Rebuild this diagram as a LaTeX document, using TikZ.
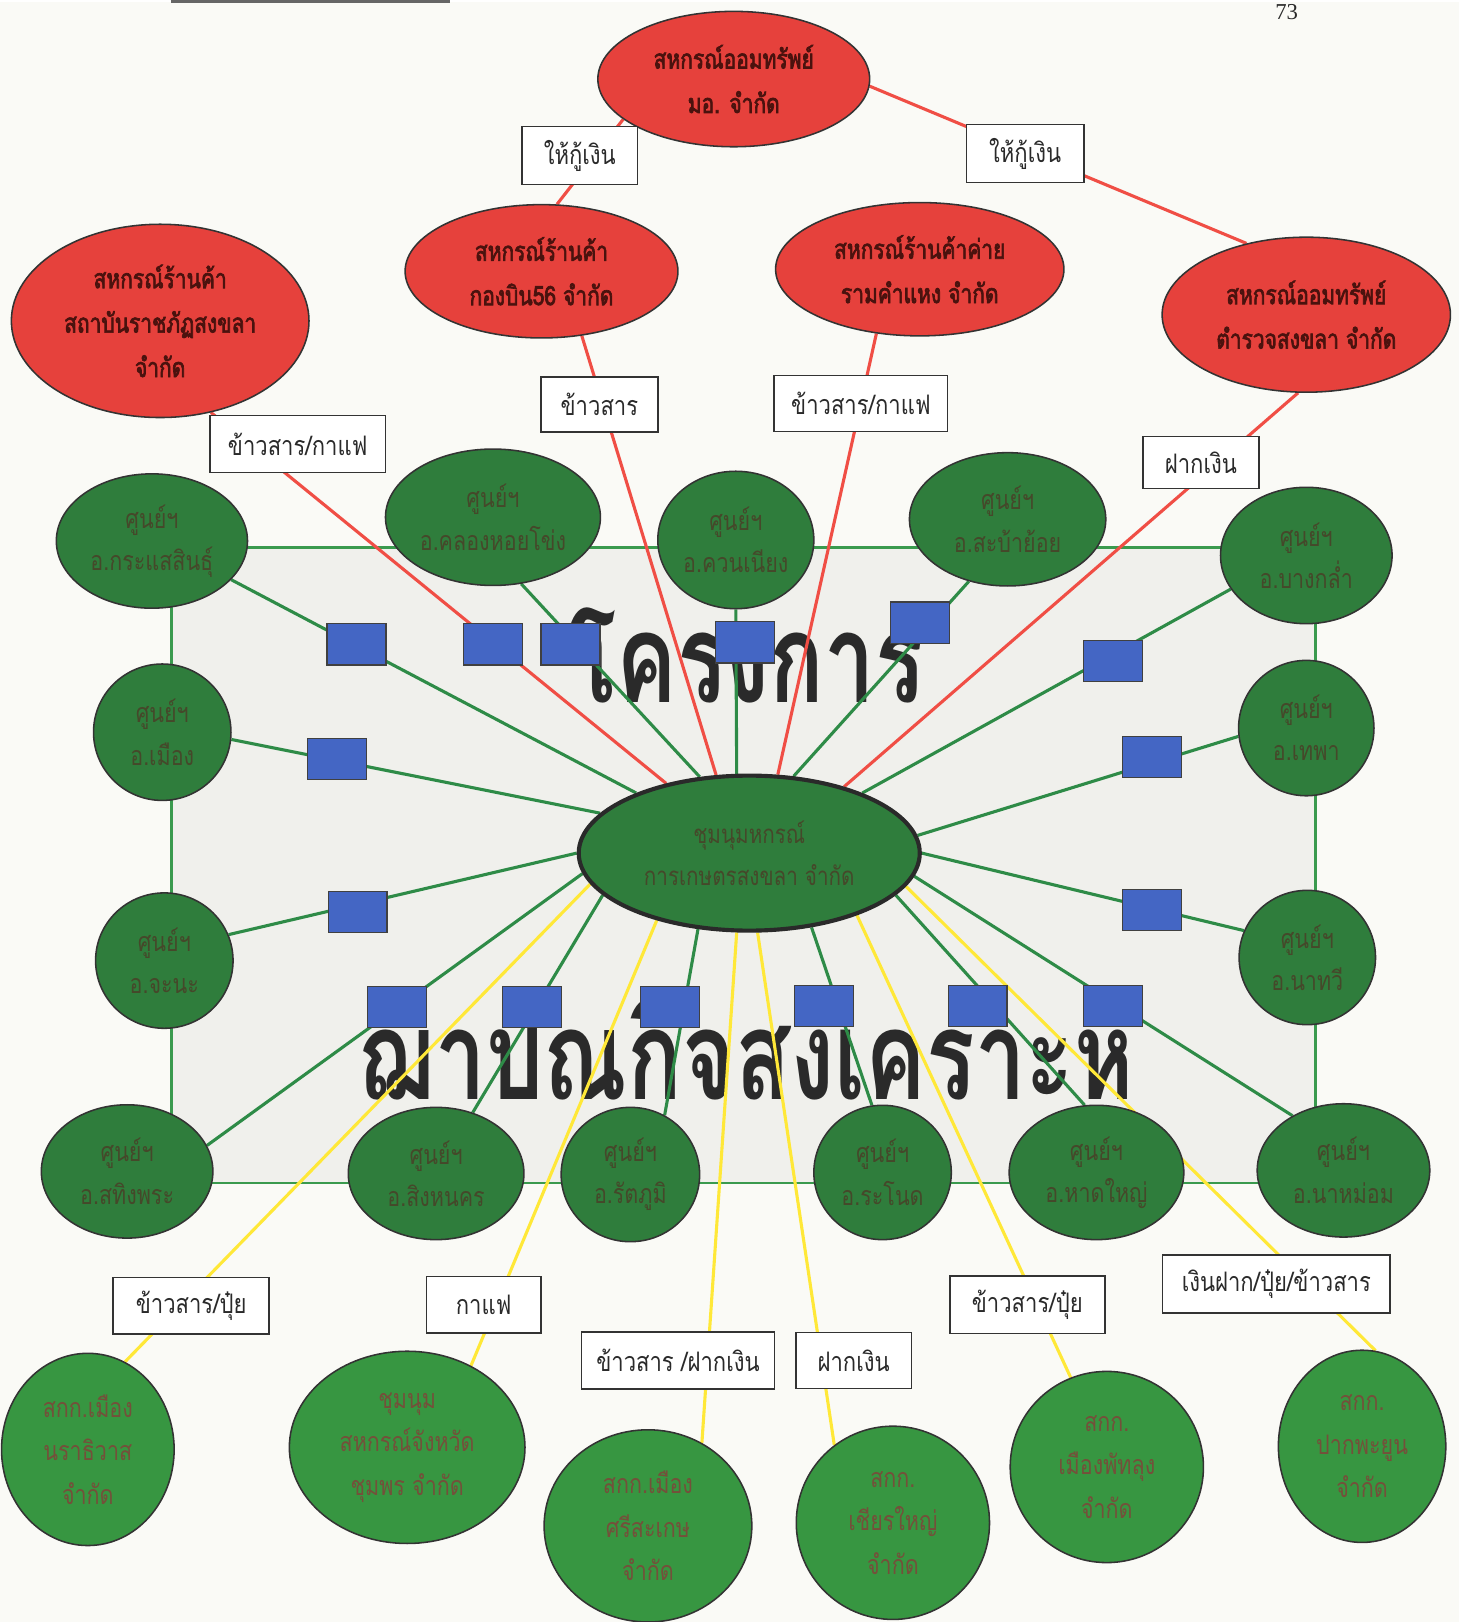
\documentclass[tikz,border=0pt]{standalone}
\usepackage{fontspec}
\setmainfont{Liberation Serif}
\newfontfamily\thE[Script=Thai,FakeStretch=0.8]{Loma}
\newfontfamily\thR[Script=Thai,FakeStretch=0.78,FakeBold=2.5]{Loma}
\newfontfamily\thL[Script=Thai,FakeStretch=0.82]{Loma}
\newfontfamily\thBig[Script=Thai,FakeStretch=0.73]{Loma}
\usetikzlibrary{shapes.geometric}
\pgfdeclarelayer{back}\pgfdeclarelayer{mid}
\pgfsetlayers{back,mid,main}
\definecolor{paper}{HTML}{FAFAF6}
\definecolor{panel}{HTML}{F0F0EC}
\definecolor{framegreen}{HTML}{3A9A4E}
\definecolor{redfill}{HTML}{E6413C}
\definecolor{darkmaroon}{HTML}{4A120E}
\definecolor{gfill}{HTML}{2F7D3C}
\definecolor{gtext}{HTML}{45482A}
\definecolor{bfill}{HTML}{379641}
\definecolor{btext}{HTML}{74503A}
\definecolor{bluefill}{HTML}{4466C4}
\definecolor{gline}{HTML}{2E8B47}
\definecolor{rline}{HTML}{F04E45}
\definecolor{yline}{HTML}{FFE838}
\definecolor{ink}{HTML}{2A2A2A}
\begin{document}
\begin{tikzpicture}[x=1pt,y=-1pt,
  redE/.style={ellipse, draw=black!80, line width=1.5pt, fill=redfill, inner sep=0pt},
  greenE/.style={ellipse, draw=black!80, line width=1.5pt, fill=gfill, inner sep=0pt},
  botE/.style={ellipse, draw=black!80, line width=1.5pt, fill=bfill, inner sep=0pt},
  centE/.style={ellipse, draw=ink, line width=4pt, fill=gfill, inner sep=0pt},
  sq/.style={rectangle, draw=black!75, line width=1.2pt, fill=bluefill, minimum width=57pt, minimum height=40pt, inner sep=0pt},
  lbl/.style={rectangle, draw=black!80, line width=1.5pt, fill=white, inner sep=0pt, font=\thL\fontsize{26}{30}\selectfont, text=ink},
  rtxt/.style={align=center, text=darkmaroon, font=\thR\fontsize{26}{43}\selectfont},
  gtxt/.style={align=center, text=gtext, font=\thE\fontsize{26}{41}\selectfont},
  btxt/.style={align=center, text=btext, font=\thE\fontsize{26}{42}\selectfont},
  ctxt/.style={align=center, text=gtext, font=\thE\fontsize{25}{40}\selectfont},
  bigtxt/.style={text=ink, font=\thBig\bfseries\fontsize{120}{120}\selectfont},
  gl/.style={draw=gline, line width=3pt},
  rl/.style={draw=rline, line width=3pt},
  yl/.style={draw=yline, line width=3pt}]
\begin{pgfonlayer}{back}
\fill[paper] (0,0) rectangle (1412,1568);
\draw[framegreen, line width=2.5pt, fill=panel] (166,528) rectangle (1273,1143);
\draw[black!60, line width=3pt] (165,0) -- (435,0);
\node[bigtxt] (big1) at (722,633) {โครงการ};
\node[bigtxt] (big2) at (722,1010) {ฌาปณกิจสงเคราะห์};
\node[font=\fontsize{22}{24}\selectfont, text=ink] (pnum) at (1245,10) {73};
\end{pgfonlayer}
\useasboundingbox (0,0) rectangle (1412,1568);

% red ellipses
\node[redE, minimum width=263pt, minimum height=131pt] (t) at (710,75) {};
\node[rtxt] (tt) at (t) {สหกรณ์ออมทรัพย์\\มอ. จำกัด};
\node[redE, minimum width=288pt, minimum height=187pt] (s) at (155,309) {};
\node[rtxt] (st) at (s) {สหกรณ์ร้านค้า\\สถาบันราชภัฏสงขลา\\จำกัด};
\node[redE, minimum width=264pt, minimum height=129pt] (g) at (524,261) {};
\node[rtxt] (gt) at (g) {สหกรณ์ร้านค้า\\กองบิน56 จำกัด};
\node[redE, minimum width=279pt, minimum height=129pt] (r) at (890,259) {};
\node[rtxt] (rt) at (r) {สหกรณ์ร้านค้าค่าย\\รามคำแหง จำกัด};
\node[redE, minimum width=279pt, minimum height=150pt] (p) at (1264,303) {};
\node[rtxt] (pt) at (p) {สหกรณ์ออมทรัพย์\\ตำรวจสงขลา จำกัด};

% central
\node[centE, minimum width=330pt, minimum height=150pt] (c) at (725,824) {};
\node[ctxt] (ct) at (c) {ชุมนุมหกรณ์\\การเกษตรสงขลา จำกัด};

% green centres
\node[greenE, minimum width=185pt, minimum height=130pt] (k1) at (147,522) {};
\node[gtxt] (k1t) at (k1) {ศูนย์ฯ\\อ.กระแสสินธุ์};
\node[greenE, minimum width=208pt, minimum height=132pt] (k2) at (477,499) {};
\node[gtxt] (k2t) at (k2) {ศูนย์ฯ\\อ.คลองหอยโข่ง};
\node[greenE, minimum width=151pt, minimum height=133pt] (k3) at (712,521) {};
\node[gtxt] (k3t) at (k3) {ศูนย์ฯ\\อ.ควนเนียง};
\node[greenE, minimum width=190pt, minimum height=129pt] (k4) at (975,501) {};
\node[gtxt] (k4t) at (k4) {ศูนย์ฯ\\อ.สะบ้าย้อย};
\node[greenE, minimum width=166pt, minimum height=132pt] (k5) at (1264,536) {};
\node[gtxt] (k5t) at (k5) {ศูนย์ฯ\\อ.บางกล่ำ};
\node[greenE, minimum width=133pt, minimum height=132pt] (k6) at (157,707) {};
\node[gtxt] (k6t) at (k6) {ศูนย์ฯ\\อ.เมือง};
\node[greenE, minimum width=131pt, minimum height=131pt] (k7) at (1264,703) {};
\node[gtxt] (k7t) at (k7) {ศูนย์ฯ\\อ.เทพา};
\node[greenE, minimum width=133pt, minimum height=131pt] (k8) at (159,928) {};
\node[gtxt] (k8t) at (k8) {ศูนย์ฯ\\อ.จะนะ};
\node[greenE, minimum width=132pt, minimum height=130pt] (k9) at (1265,925) {};
\node[gtxt] (k9t) at (k9) {ศูนย์ฯ\\อ.นาทวี};
\node[greenE, minimum width=166pt, minimum height=129pt] (k10) at (123,1132) {};
\node[gtxt] (k10t) at (k10) {ศูนย์ฯ\\อ.สทิงพระ};
\node[greenE, minimum width=170pt, minimum height=128pt] (k11) at (422,1134) {};
\node[gtxt] (k11t) at (k11) {ศูนย์ฯ\\อ.สิงหนคร};
\node[greenE, minimum width=134pt, minimum height=130pt] (k12) at (610,1135) {};
\node[gtxt] (k12t) at (k12) {ศูนย์ฯ\\อ.รัตภูมิ};
\node[greenE, minimum width=133pt, minimum height=130pt] (k13) at (854,1133) {};
\node[gtxt] (k13t) at (k13) {ศูนย์ฯ\\อ.ระโนด};
\node[greenE, minimum width=169pt, minimum height=130pt] (k14) at (1061,1133) {};
\node[gtxt] (k14t) at (k14) {ศูนย์ฯ\\อ.หาดใหญ่};
\node[greenE, minimum width=167pt, minimum height=129pt] (k15) at (1300,1131) {};
\node[gtxt] (k15t) at (k15) {ศูนย์ฯ\\อ.นาหม่อม};

% bottom partners
\node[botE, minimum width=167pt, minimum height=186pt] (n1) at (85,1401) {};
\node[btxt] (n1t) at (n1) {สกก.เมือง\\นราธิวาส\\จำกัด};
\node[botE, minimum width=228pt, minimum height=186pt] (n2) at (394,1399) {};
\node[btxt] (n2t) at (n2) {ชุมนุม\\สหกรณ์จังหวัด\\ชุมพร จำกัด};
\node[botE, minimum width=201pt, minimum height=186pt] (n3) at (627,1475) {};
\node[btxt] (n3t) at (n3) {สกก.เมือง\\ศรีสะเกษ\\จำกัด};
\node[botE, minimum width=187pt, minimum height=187pt] (n4) at (864,1472) {};
\node[btxt] (n4t) at (n4) {สกก.\\เชียรใหญ่\\จำกัด};
\node[botE, minimum width=187pt, minimum height=185pt] (n5) at (1071,1418) {};
\node[btxt] (n5t) at (n5) {สกก.\\เมืองพัทลุง\\จำกัด};
\node[botE, minimum width=162pt, minimum height=186pt] (n6) at (1318,1398) {};
\node[btxt] (n6t) at (n6) {สกก.\\ปากพะยูน\\จำกัด};

% label boxes
\node[lbl, minimum width=112pt, minimum height=56pt] (l1) at (561,149) {ให้กู้เงิน};
\node[lbl, minimum width=114pt, minimum height=56pt] (l2) at (992,147) {ให้กู้เงิน};
\node[lbl, minimum width=170pt, minimum height=55pt] (l3) at (288,428) {ข้าวสาร/กาแฟ};
\node[lbl, minimum width=113pt, minimum height=53pt] (l4) at (580,390) {ข้าวสาร};
\node[lbl, minimum width=168pt, minimum height=54pt] (l5) at (833,389) {ข้าวสาร/กาแฟ};
\node[lbl, minimum width=112pt, minimum height=50pt] (l6) at (1162,446) {ฝากเงิน};
\node[lbl, minimum width=151pt, minimum height=55pt] (b1) at (185,1262) {ข้าวสาร/ปุ๋ย};
\node[lbl, minimum width=111pt, minimum height=55pt] (b2) at (468,1261) {กาแฟ};
\node[lbl, minimum width=187pt, minimum height=55pt] (b3) at (656,1315) {ข้าวสาร /ฝากเงิน};
\node[lbl, minimum width=112pt, minimum height=54pt] (b4) at (826,1315) {ฝากเงิน};
\node[lbl, minimum width=150pt, minimum height=56pt] (b5) at (994,1261) {ข้าวสาร/ปุ๋ย};
\node[lbl, minimum width=220pt, minimum height=56pt] (b6) at (1235,1241) {เงินฝาก/ปุ๋ย/ข้าวสาร};

% blue squares
\node[sq] (q1) at (345,622) {};
\node[sq] (q2) at (477,622) {};
\node[sq] (q3) at (552,622) {};
\node[sq] (q4) at (721,620) {};
\node[sq] (q5) at (890,601) {};
\node[sq] (q6) at (1077,638) {};
\node[sq] (q7) at (326,733) {};
\node[sq] (q8) at (1115,731) {};
\node[sq] (q9) at (346,881) {};
\node[sq] (q10) at (1115,879) {};
\node[sq] (q11) at (384,973) {};
\node[sq] (q12) at (515,973) {};
\node[sq] (q13) at (648,973) {};
\node[sq] (q14) at (797,972) {};
\node[sq] (q15) at (946,972) {};
\node[sq] (q16) at (1077,972) {};

\begin{pgfonlayer}{mid}
% green links (through blue squares)
\draw[gl] (c.152.4) -- (k1.-26.6);
\draw[gl] (c.123) -- (k2.-67.4);
\draw[gl] (c.99.8) -- (k3.-90);
\draw[gl] (c.60.2) -- (k4.-122);
\draw[gl] (c.28.9) -- (k5.-156.6);
\draw[gl] (c.165.2) -- (k6.-6.9);
\draw[gl] (c.6.7) -- (k7.187.9);
\draw[gl] (c.180.7) -- (k8.22.2);
\draw[gl] (c.-0.7) -- (k9.157);
\draw[gl] (c.187.3) -- (k10.18);
\draw[gl] (c.196.2) -- (k11.59.4);
\draw[gl] (c.236.7) -- (k12.60.4);
\draw[gl] (c.-50.4) -- (k13.99.3);
\draw[gl] (c.-16) -- (k14.100.4);
\draw[gl] (c.-8) -- (k15.133.9);
% red links
\draw[rl] (t.200.4) -- (g.77.7);
\draw[rl] (t.-3) -- (p.130);
\draw[rl] (s.-61.9) -- (c.140.7);
\draw[rl] (g.-58.6) -- (c.113.7);
\draw[rl] (r.-124.9) -- (c.70.9);
\draw[rl] (p.-96) -- (c.35.1);
% yellow links
\draw[yl] (c.191.7) -- (n1.67.9);
\draw[yl] (c.216.8) -- (n2.52.3);
\draw[yl] (c.-99.5) -- (n3.57.3);
\draw[yl] (c.-84.1) -- (n4.127.2);
\draw[yl] (c.-30.8) -- (n5.112.5);
\draw[yl] (c.-12.1) -- (n6.82.6);
\end{pgfonlayer}
\end{tikzpicture}
\end{document}
